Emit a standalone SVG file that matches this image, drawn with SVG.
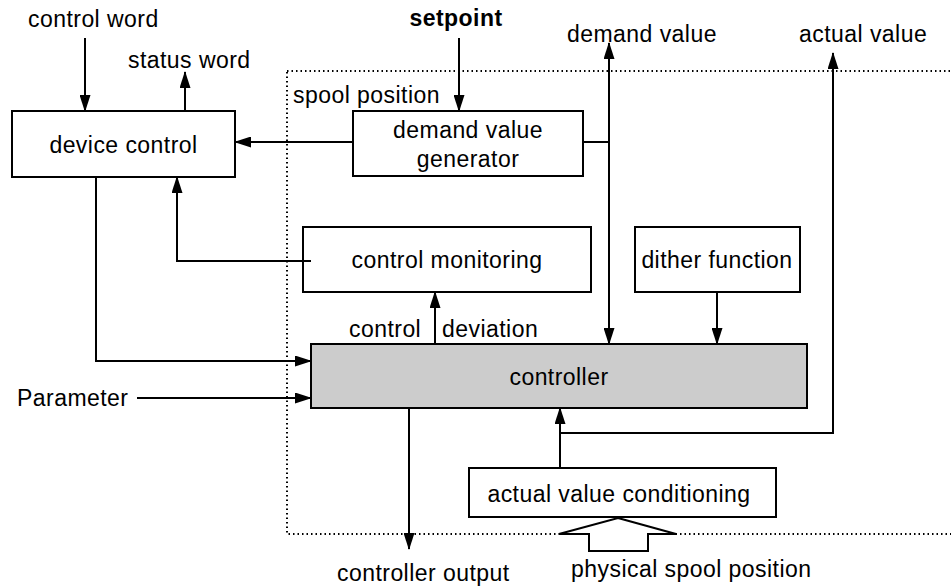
<svg xmlns="http://www.w3.org/2000/svg" width="951" height="587" viewBox="0 0 951 587">
<style>
text{font-family:"Liberation Sans",Arial,sans-serif;font-size:23px;letter-spacing:0.45px;fill:#000}
.c{text-anchor:middle}
.b{font-weight:bold}
.box{fill:#fff;stroke:#000;stroke-width:2}
.ctl{fill:#cccccc;stroke:#000;stroke-width:2}
.ln{fill:none;stroke:#000;stroke-width:2}
.dot{fill:none;stroke:#000;stroke-width:2;stroke-dasharray:1.5,3}
</style>
<defs>
<marker id="ah" markerUnits="userSpaceOnUse" markerWidth="17" markerHeight="11" refX="16" refY="5.5" orient="auto">
<path d="M0,0 L17,5.5 L0,11 z" fill="#000"/>
</marker>
</defs>
<rect id="boundary" class="dot" x="287" y="71" width="670" height="463"/>
<text x="293" y="103">spool position</text>
<g id="connectors">
<line class="ln" x1="85" y1="38" x2="85" y2="111" marker-end="url(#ah)"/>
<line class="ln" x1="185" y1="111" x2="185" y2="72" marker-end="url(#ah)"/>
<line class="ln" x1="459" y1="38" x2="459" y2="111" marker-end="url(#ah)"/>
<line class="ln" x1="353" y1="142" x2="235" y2="142" marker-end="url(#ah)"/>
<line class="ln" x1="583" y1="142" x2="609" y2="142"/>
<line class="ln" x1="609" y1="142" x2="609" y2="43" marker-end="url(#ah)"/>
<line class="ln" x1="609" y1="142" x2="609" y2="344" marker-end="url(#ah)"/>
<polyline class="ln" points="560,468 560,433 833,433 833,53" marker-end="url(#ah)"/>
<line class="ln" x1="560" y1="440" x2="560" y2="408" marker-end="url(#ah)"/>
<polyline class="ln" points="311,261 177,261 177,177" marker-end="url(#ah)"/>
<polyline class="ln" points="96,177 96,361 311,361" marker-end="url(#ah)"/>
<line class="ln" x1="717" y1="292" x2="717" y2="344" marker-end="url(#ah)"/>
<line class="ln" x1="435" y1="344" x2="435" y2="292" marker-end="url(#ah)"/>
<line class="ln" x1="137" y1="398" x2="311" y2="398" marker-end="url(#ah)"/>
<line class="ln" x1="409" y1="408" x2="409" y2="549" marker-end="url(#ah)"/>
<polygon class="box" points="618,518 676,534 648,534 648,551 589,551 589,534 559,534"/>
</g>
<text x="28" y="27">control word</text>
<text x="128" y="68">status word</text>
<text class="c b" x="456" y="26">setpoint</text>
<text x="567" y="42">demand value</text>
<text x="799" y="42">actual value</text>
<text x="349" y="337">control</text>
<text x="442" y="337">deviation</text>
<text x="17" y="406">Parameter</text>
<text x="337" y="581">controller output</text>
<text x="571" y="577">physical spool position</text>
<g id="device-control">
<rect class="box" x="12" y="111" width="223" height="66"/>
<text class="c" x="123.5" y="153">device control</text>
</g>
<g id="demand-value-generator">
<rect class="box" x="353" y="111" width="230" height="65"/>
<text class="c" x="468" y="138">demand value</text>
<text class="c" x="468" y="167">generator</text>
</g>
<g id="control-monitoring">
<rect class="box" x="303" y="227" width="288" height="65"/>
<line class="ln" x1="303" y1="261" x2="311" y2="261"/>
<text class="c" x="447" y="268">control monitoring</text>
</g>
<g id="dither-function">
<rect class="box" x="635" y="227" width="165" height="65"/>
<text class="c" x="717" y="268">dither function</text>
</g>
<g id="controller">
<rect class="ctl" x="311" y="344" width="496" height="64"/>
<text class="c" x="559" y="385">controller</text>
</g>
<g id="actual-value-conditioning">
<rect class="box" x="469" y="468" width="307" height="49"/>
<text class="c" x="619" y="502">actual value conditioning</text>
</g>
</svg>
